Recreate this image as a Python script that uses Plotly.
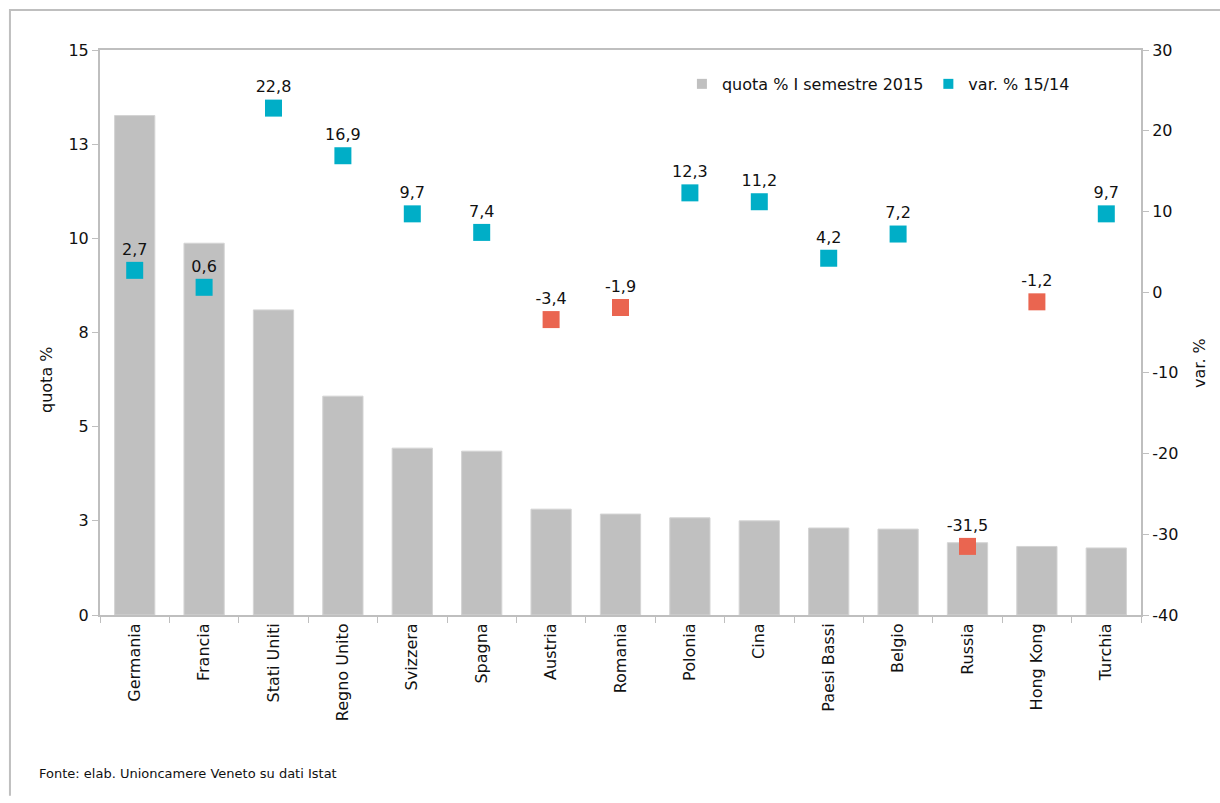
import plotly.graph_objects as go

countries = ["Germania", "Francia", "Stati Uniti", "Regno Unito", "Svizzera", "Spagna",
             "Austria", "Romania", "Polonia", "Cina", "Paesi Bassi", "Belgio",
             "Russia", "Hong Kong", "Turchia"]
quota = [13.26, 9.87, 8.10, 5.81, 4.43, 4.35, 2.81, 2.68, 2.58, 2.50, 2.31, 2.28, 1.92, 1.82, 1.78]
var_pct = [2.7, 0.6, 22.8, 16.9, 9.7, 7.4, -3.4, -1.9, 12.3, 11.2, 4.2, 7.2, -31.5, -1.2, 9.7]
right_tickvals = [-40, -30, -20, -10, 0, 10, 20, 30]
right_ticktext = ["-40", "-30", "-20", "-10", "0", "10", "20", "30"]

FONT = "DejaVu Sans"
GRAY = "#C0C0C0"
TEAL = "#00AEC7"
RED = "#EA6550"
AXIS = "#BFBFBF"
TXT = "#111111"

marker_colors = [TEAL if v >= 0 else RED for v in var_pct]

fig = go.Figure()
fig.add_trace(go.Bar(
    x=countries, y=quota, name="quota % I semestre 2015",
    marker=dict(color=GRAY, line=dict(color="#D4D4D4", width=1)),
    width=0.58, showlegend=False, yaxis="y",
))
fig.add_trace(go.Scatter(
    x=countries, y=var_pct, name="var. % 15/14", mode="markers+text",
    marker=dict(symbol="square", size=17, color=marker_colors),
    texttemplate="%{y:.1f}", textposition="top center",
    textfont=dict(family=FONT, size=16, color=TXT),
    showlegend=False, yaxis="y2", cliponaxis=False,
))
# legend entries
fig.add_trace(go.Scatter(x=[None], y=[None], mode="markers", name="quota % I semestre 2015",
                         marker=dict(symbol="square", size=10, color=GRAY), yaxis="y"))
fig.add_trace(go.Scatter(x=[None], y=[None], mode="markers", name="var. % 15/14",
                         marker=dict(symbol="square", size=10, color=TEAL), yaxis="y"))

fig.update_layout(
    width=1220, height=803,
    margin=dict(l=100, r=79, t=50, b=188, autoexpand=False),
    paper_bgcolor="white", plot_bgcolor="white",
    separators=",.",
    font=dict(family=FONT, size=16, color=TXT),
    xaxis=dict(
        type="category", range=[-0.5, 14.5],
        showline=True, linecolor=AXIS, linewidth=2, mirror=True,
        ticks="outside", tickson="boundaries", ticklen=6, tickcolor=AXIS, tickwidth=1,
        tickangle=-90, tickfont=dict(family=FONT, size=16, color=TXT),
        showgrid=False, zeroline=False,
    ),
    yaxis=dict(
        range=[0, 15], dtick=2.5, tick0=0, tickformat=".0f",
        showline=True, linecolor=AXIS, linewidth=2,
        ticks="outside", ticklen=6, tickcolor=AXIS, tickwidth=1,
        tickfont=dict(family=FONT, size=16, color=TXT),
        showgrid=False, zeroline=False,
    ),
    yaxis2=dict(
        range=[-40, 30], tickmode="array", tickvals=right_tickvals, ticktext=right_ticktext,
        overlaying="y", side="right",
        showline=True, linecolor=AXIS, linewidth=2,
        ticks="outside", ticklen=6, tickcolor=AXIS, tickwidth=1,
        tickfont=dict(family=FONT, size=16, color=TXT),
        showgrid=False, zeroline=False,
    ),
    legend=dict(
        orientation="h", x=0.559, y=0.97, xanchor="left", yanchor="top",
        font=dict(family=FONT, size=16, color=TXT),
        bgcolor="rgba(0,0,0,0)", itemwidth=30,
    ),
    annotations=[
        dict(text="quota %", textangle=-90, x=-0.0509, y=0.416, xref="paper", yref="paper",
             xanchor="center", yanchor="middle",
             showarrow=False, font=dict(family=FONT, size=16, color=TXT)),
        dict(text="var. %", textangle=-90, x=1.0557, y=0.446, xref="paper", yref="paper",
             xanchor="center", yanchor="middle",
             showarrow=False, font=dict(family=FONT, size=16, color=TXT)),
        dict(text="Fonte: elab. Unioncamere Veneto su dati Istat", x=-0.0605, y=-0.2807,
             xref="paper", yref="paper", xanchor="left", yanchor="middle",
             showarrow=False, font=dict(family=FONT, size=13, color=TXT)),
    ],
    shapes=[
        dict(type="path", xref="paper", yref="paper",
             path="M -0.0865,-0.32 L -0.0865,1.0708 L 1.2,1.0708",
             line=dict(color=AXIS, width=2)),
    ],
)

fig.write_html("out.html")
